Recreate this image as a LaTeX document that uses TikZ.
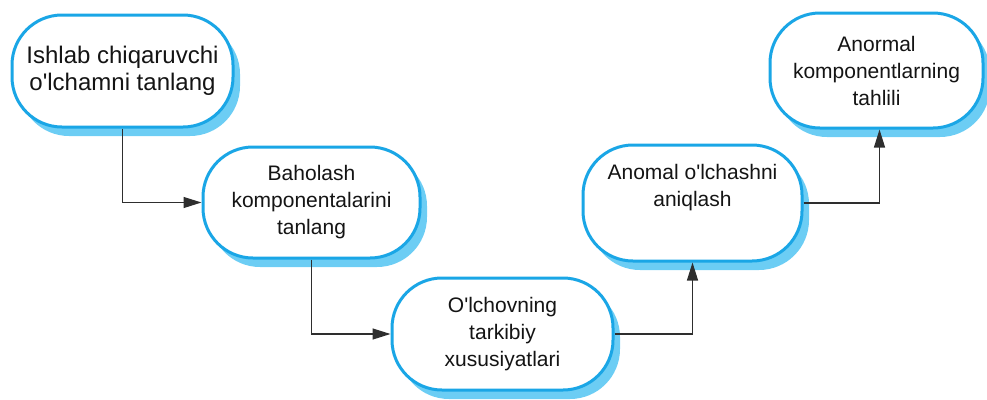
\documentclass[tikz,border=0pt]{standalone}
\usepackage{fontspec}
\setmainfont{Liberation Sans}[Ligatures=TeXOff]
\usetikzlibrary{shadows,arrows.meta}
\definecolor{rimblue}{HTML}{1AA6E6}
\definecolor{shadeblue}{HTML}{6CCDF4}
\definecolor{linegray}{HTML}{2E2E2E}
\tikzset{
  stepbox/.style={draw=rimblue, line width=3pt, fill=white, rounded corners=50pt,
    align=center, inner sep=0pt, text=black!92,
    font=\fontsize{21}{27}\selectfont,
    general shadow={shadow xshift=7pt, shadow yshift=-9pt, fill=shadeblue, draw=none}},
  flow/.style={draw=linegray, line width=1.2pt, -{Triangle[length=18pt,width=11pt]}}
}
\begin{document}
\begin{tikzpicture}[x=1pt,y=-1pt]
\useasboundingbox (0,0) rectangle (987,399);
\node[stepbox, minimum width=221pt, minimum height=112pt, font=\fontsize{24}{27}\selectfont]
  (b1) at (122.5,71) {Ishlab chiqaruvchi\\o'lchamni tanlang};
\node[stepbox, minimum width=217pt, minimum height=111pt]
  (b2) at (311.5,202.5) {Baholash\\komponentalarini\\tanlang};
\node[stepbox, minimum width=221pt, minimum height=112pt]
  (b3) at (502.5,334) {O'lchovning\\tarkibiy\\xususiyatlari};
\node[stepbox, minimum width=219pt, minimum height=116pt]
  (b4) at (692.5,203) {Anomal o'lchashni\\aniqlash\\[8pt]};
\node[stepbox, minimum width=213pt, minimum height=115pt]
  (b5) at (876.5,70.5) {Anormal\\komponentlarning\\tahlili};
\draw[flow] (b1.south) |- (b2.west);
\draw[flow] (b2.south) |- (b3.west);
\draw[flow] (b3.east) -| (b4.south);
\draw[flow] (b4.east) -| ([xshift=3pt]b5.south);
\end{tikzpicture}
\end{document}
